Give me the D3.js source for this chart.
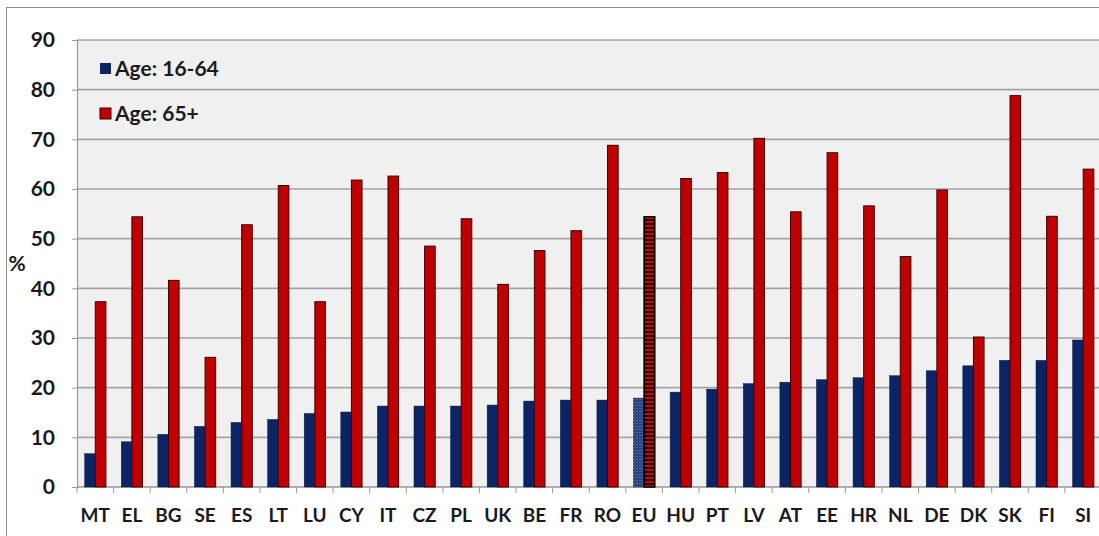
<!DOCTYPE html>
<html>
<head>
<meta charset="utf-8">
<script src="https://cdn.jsdelivr.net/npm/d3@7"></script>
<style>
  html, body { margin: 0; padding: 0; background: #fff; }
  svg { display: block; }
  text { font-family: Lato, "Open Sans", sans-serif; font-weight: bold; fill: #1a1a1a; }
</style>
</head>
<body>
<svg id="chart" width="1099" height="536"></svg>
<script>
// Country codes, sorted by the 16-64 share
var countries = ["MT","EL","BG","SE","ES","LT","LU","CY","IT","CZ","PL","UK","BE","FR",
                 "RO","EU","HU","PT","LV","AT","EE","HR","NL","DE","DK","SK","FI","SI"];
var age1664 = [6.7, 9.1, 10.6, 12.2, 13.0, 13.6, 14.8, 15.1, 16.3, 16.3, 16.3, 16.5, 17.3, 17.5,
               17.5, 17.9, 19.1, 19.7, 20.8, 21.1, 21.6, 22.0, 22.4, 23.4, 24.4, 25.5, 25.5, 29.6];
var age65 = [37.3, 54.4, 41.6, 26.1, 52.8, 60.7, 37.3, 61.8, 62.6, 48.5, 54.0, 40.8, 47.6, 51.6,
             68.8, 54.4, 62.1, 63.3, 70.2, 55.4, 67.3, 56.6, 46.4, 59.8, 30.2, 78.8, 54.5, 64.0];
var seriesNames = ["Age: 16-64", "Age: 65+"];
var yTicks = [0, 10, 20, 30, 40, 50, 60, 70, 80, 90];

var BLUE = "#0b2466", RED = "#c00000";

var svg = d3.select("#chart");
var MARGINS = {top: 40, left: 77, bottom: 487, right: 1101.5};

// outer frame of the picture
svg.append("rect")
    .attr("x", 6.5).attr("y", 7.5)
    .attr("width", 1200).attr("height", 1000)
    .attr("fill", "#fff")
    .attr("stroke", "#8c8c8c").attr("stroke-width", 1);

// patterns for the EU bars
var defs = svg.append("defs");
var pBlue = defs.append("pattern")
    .attr("id", "euBlue").attr("patternUnits", "userSpaceOnUse")
    .attr("width", 3).attr("height", 3);
pBlue.append("rect").attr("width", 3).attr("height", 3).attr("fill", "#142f70");
pBlue.append("rect").attr("x", 0).attr("y", 0).attr("width", 1).attr("height", 1).attr("fill", "#9fb0da");
pBlue.append("rect").attr("x", 1.5).attr("y", 1.5).attr("width", 1).attr("height", 1).attr("fill", "#9fb0da");

var pRed = defs.append("pattern")
    .attr("id", "euRed").attr("patternUnits", "userSpaceOnUse")
    .attr("width", 12).attr("height", 4);
pRed.append("rect").attr("width", 12).attr("height", 4).attr("fill", "#1a0000");
pRed.append("rect").attr("x", 0).attr("y", 1).attr("width", 12).attr("height", 2).attr("fill", "#d40000");

var x0 = d3.scaleBand()
    .domain(countries)
    .range([MARGINS.left, MARGINS.right])
    .paddingInner(0.42)
    .paddingOuter(0.21);

var x1 = d3.scaleBand()
    .domain([0, 1])
    .range([0, x0.bandwidth()]);

var y = d3.scaleLinear()
    .domain([0, 90])
    .range([MARGINS.bottom, MARGINS.top]);

// plot background
svg.append("rect")
    .attr("x", MARGINS.left).attr("y", y(90))
    .attr("width", MARGINS.right - MARGINS.left)
    .attr("height", y(0) - y(90))
    .attr("fill", "#f0f0f0");

// gridlines
svg.selectAll(".grid").data(yTicks.filter(function(d){ return d > 0; }))
  .enter().append("line")
    .attr("x1", MARGINS.left).attr("x2", MARGINS.right)
    .attr("y1", function(d){ return y(d); })
    .attr("y2", function(d){ return y(d); })
    .attr("stroke", "#a3a3a3").attr("stroke-width", 1.6);

// y axis
var yAxis = d3.axisLeft(y)
    .tickValues(yTicks)
    .tickSize(5)
    .tickPadding(17);
var gy = svg.append("g")
    .attr("transform", "translate(" + MARGINS.left + ",0)")
    .call(yAxis);
gy.select(".domain").attr("stroke", "#999").attr("stroke-width", 1.2);
gy.selectAll(".tick line").attr("stroke", "#999");
gy.selectAll(".tick text")
    .style("font-size", "21px")
    .style("font-family", "Lato, sans-serif")
    .style("font-weight", "bold")
    .attr("fill", "#1a1a1a");

// x axis (ticks between categories)
svg.append("line")
    .attr("x1", MARGINS.left).attr("x2", MARGINS.right)
    .attr("y1", y(0)).attr("y2", y(0))
    .attr("stroke", "#999").attr("stroke-width", 1.4);
var bounds = countries.map(function(c){ return x0(c) - x0.step() * x0.paddingInner() / 2; });
svg.selectAll(".xt").data(bounds)
  .enter().append("line")
    .attr("x1", function(d){ return d; }).attr("x2", function(d){ return d; })
    .attr("y1", y(0)).attr("y2", y(0) + 6)
    .attr("stroke", "#999").attr("stroke-width", 1);

svg.selectAll(".xl").data(countries)
  .enter().append("text")
    .attr("x", function(d){ return x0(d) + x0.bandwidth() / 2; })
    .attr("y", 522)
    .attr("text-anchor", "middle")
    .style("font-size", "19px")
    .text(function(d){ return d; });

// % label
svg.append("text")
    .attr("x", 17).attr("y", 271)
    .attr("text-anchor", "middle")
    .style("font-size", "21px")
    .text("%");

// bars
var groups = svg.selectAll(".grp").data(countries)
  .enter().append("g")
    .attr("transform", function(d){ return "translate(" + x0(d) + ",0)"; });

groups.append("rect")
    .attr("x", x1(0))
    .attr("y", function(d, i){ return y(age1664[i]); })
    .attr("width", x1.bandwidth())
    .attr("height", function(d, i){ return y(0) - y(age1664[i]); })
    .attr("fill", function(d){ return d === "EU" ? "url(#euBlue)" : BLUE; })
    .attr("stroke", "#0a1a40").attr("stroke-width", 0.5);

groups.append("rect")
    .attr("x", x1(1))
    .attr("y", function(d, i){ return y(age65[i]); })
    .attr("width", x1.bandwidth())
    .attr("height", function(d, i){ return y(0) - y(age65[i]); })
    .attr("fill", function(d){ return d === "EU" ? "url(#euRed)" : RED; })
    .attr("stroke", function(d){ return d === "EU" ? "#000" : "#3a0000"; })
    .attr("stroke-width", function(d){ return d === "EU" ? 1.6 : 1; });

// legend
var legend = svg.selectAll(".leg").data(seriesNames)
  .enter().append("g")
    .attr("transform", function(d, i){ return "translate(100," + (63 + i * 45) + ")"; });
legend.append("rect")
    .attr("width", 11).attr("height", 11)
    .attr("fill", function(d, i){ return i === 0 ? BLUE : RED; })
    .attr("stroke", function(d, i){ return i === 0 ? "none" : "#3a0000"; });
legend.append("text")
    .attr("x", 15).attr("y", 13)
    .style("font-size", "21px")
    .text(function(d){ return d; });
</script>
</body>
</html>
